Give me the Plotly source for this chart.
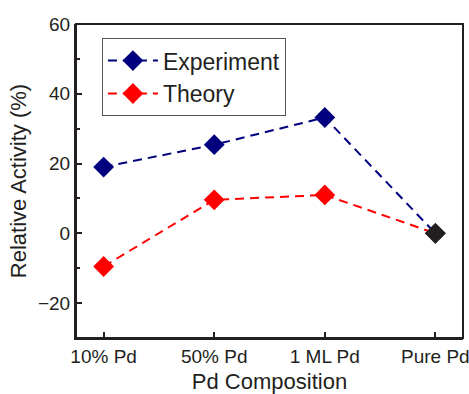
import plotly.graph_objects as go

categories = ["10% Pd", "50% Pd", "1 ML Pd", "Pure Pd"]
experiment = [19.0, 25.4, 33.2, 0.0]
theory = [-9.5, 9.6, 11.0, 0.0]
y_ticks = [-20, 0, 20, 40, 60]

xi = list(range(len(categories)))
dark = "#231f20"
navy = "#00007f"
red = "#ff0000"

def colors(c, n):
    return [c] * (n - 1) + [dark]

fig = go.Figure()
fig.add_trace(go.Scatter(
    x=xi, y=experiment, name="Experiment", mode="lines+markers",
    line=dict(color=navy, width=2, dash="9px,6px"),
    marker=dict(symbol="diamond", size=16, color=colors(navy, len(xi)), line=dict(width=0)),
))
fig.add_trace(go.Scatter(
    x=xi, y=theory, name="Theory", mode="lines+markers",
    line=dict(color=red, width=2, dash="9px,6px"),
    marker=dict(symbol="diamond", size=16, color=colors(red, len(xi)), line=dict(width=0)),
))

font = "Liberation Sans, Arial, sans-serif"
fig.update_layout(
    width=469, height=394,
    margin=dict(l=76, r=6, t=24, b=56, autoexpand=False),
    paper_bgcolor="white", plot_bgcolor="white",
    font=dict(family=font, color=dark),
    showlegend=True,
    legend=dict(
        x=0.067, y=0.955, xanchor="left", yanchor="top",
        bgcolor="white", bordercolor="#555", borderwidth=1,
        font=dict(size=23, family=font, color=dark),
        itemwidth=50, tracegroupgap=0,
    ),
    xaxis=dict(
        range=[-0.25, 3.25], tickmode="array", tickvals=xi, ticktext=categories,
        ticks="inside", ticklen=6, tickwidth=1.5, tickcolor=dark,
        showline=True, linecolor=dark, linewidth=2, showgrid=False, zeroline=False,
        tickfont=dict(size=19), automargin=False, ticklabeloverflow="allow",
        title=dict(text="Pd Composition", font=dict(size=22), standoff=11),
    ),
    yaxis=dict(
        range=[-30, 60], tickmode="array", tickvals=y_ticks,
        ticks="inside", ticklen=6, tickwidth=1.5, tickcolor=dark,
        minor=dict(ticks="inside", ticklen=4, tickwidth=1.5, tickcolor=dark, dtick=10, tick0=10),
        showline=True, linecolor=dark, linewidth=2, showgrid=False, zeroline=False,
        tickfont=dict(size=19), automargin=False,
        title=dict(text="Relative Activity (%)", font=dict(size=22), standoff=5),
    ),
    shapes=[dict(type="rect", xref="paper", yref="paper", x0=0, x1=1, y0=0, y1=1,
                 line=dict(color=dark, width=2), layer="above")],
)

fig.write_html(
    "out.html",
    config={"displayModeBar": False},
    post_script="document.body.style.margin='0';document.body.style.overflow='hidden';",
)
